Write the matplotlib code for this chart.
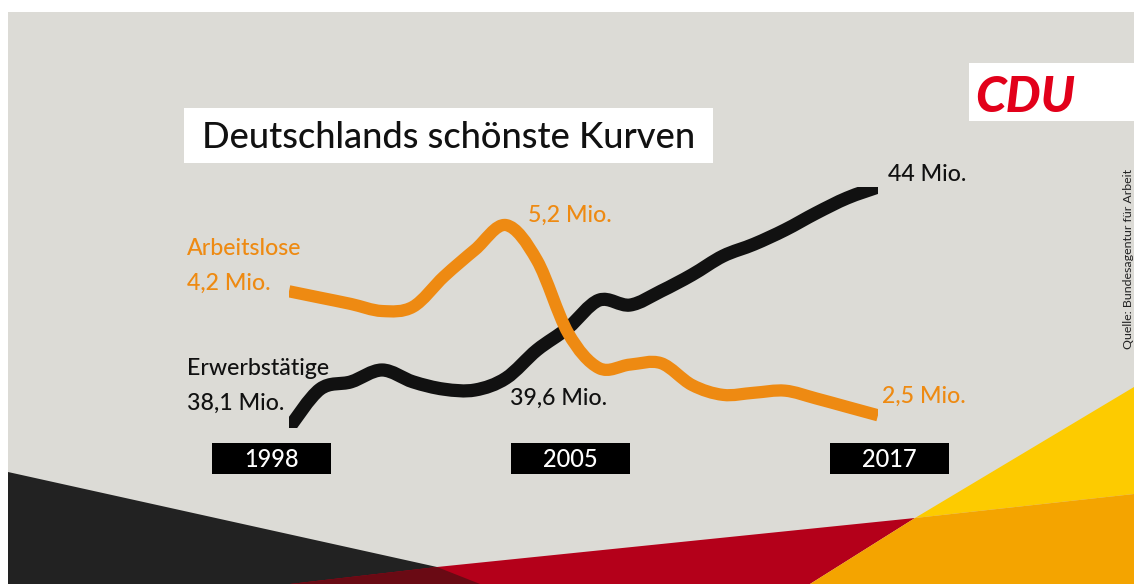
import numpy as np
import matplotlib
matplotlib.use("Agg")
import matplotlib.pyplot as plt
from matplotlib.path import Path
from matplotlib.patches import PathPatch, Polygon, Rectangle

# ---------------- data ----------------
years = [1998, 1999, 2000, 2001, 2002, 2003, 2004, 2005, 2006, 2007,
         2008, 2009, 2010, 2011, 2012, 2013, 2014, 2015, 2016, 2017]
erwerbstaetige = [38.10, 39.05, 39.23, 39.52, 39.23, 39.05, 39.03, 39.32, 40.01, 40.55,
                  41.23, 41.11, 41.45, 41.85, 42.31, 42.60, 42.95, 43.36, 43.73, 44.00]
arbeitslose = [4.26, 4.17, 4.08, 3.98, 4.04, 4.47, 4.85, 5.20, 4.70, 3.67,
               3.17, 3.22, 3.24, 2.93, 2.79, 2.82, 2.85, 2.74, 2.62, 2.50]
year_labels = ["1998", "2005", "2017"]
title = "Deutschlands schönste Kurven"
source = "Quelle: Bundesagentur für Arbeit"

W, H = 1134, 584
BG = "#dcdbd6"
BLACK = "#111111"
ORANGE = "#ee8a12"
FONT = ["Lato", "DejaVu Sans"]

fig = plt.figure(figsize=(W / 100, H / 100), dpi=100)
fig.patch.set_facecolor("white")

# background / decoration axes in pixel coordinates
bg = fig.add_axes([0, 0, 1, 1])
bg.set_xlim(0, W)
bg.set_ylim(H, 0)
bg.set_axis_off()
bg.add_patch(Rectangle((8, 12), W - 8, H - 12, facecolor=BG, edgecolor="none"))

polys = [
    ([(8, 472), (437, 567), (480, 584), (8, 584)], "#222222"),
    ([(290, 584), (437, 567), (915, 518), (810, 584)], "#b4001a"),
    ([(290, 584), (437, 567), (480, 584)], "#6a0a14"),
    ([(915, 518), (1134, 387), (1134, 494)], "#fdcb00"),
    ([(915, 518), (1134, 494), (1134, 584), (810, 584)], "#f4a400"),
]
for pts, col in polys:
    bg.add_patch(Polygon(pts, closed=True, facecolor=col, edgecolor="none"))

# white boxes
bg.add_patch(Rectangle((184, 108), 529, 55, facecolor="white", edgecolor="none"))
bg.add_patch(Rectangle((969, 63), W - 969, 58, facecolor="white", edgecolor="none"))

renderer = fig.canvas.get_renderer()


def fit_width(t, target):
    bb = t.get_window_extent(renderer)
    t.set_fontsize(t.get_fontsize() * target / bb.width)
    return t.get_fontsize()


def fit_height(t, target):
    bb = t.get_window_extent(renderer)
    t.set_fontsize(t.get_fontsize() * target / bb.height)
    return t.get_fontsize()


# title
tt = bg.text(202, 148, title, fontsize=24, family=FONT, weight=500, color="#111111",
             ha="left", va="baseline")
fit_width(tt, 494)

# CDU logo
cdu = bg.text(975, 112, "CDU", fontsize=26, family=FONT, weight=900,
              style="italic", color="#e2001a", ha="left", va="baseline")
fit_width(cdu, 100)

# source text
src = bg.text(1128, 259, source, fontsize=7, family=FONT, color="#222222",
              rotation=90, ha="center", va="center")
fit_height(src, 182)

# label texts
ref = bg.text(187, 375, "Erwerbstätige", fontsize=16, family=FONT, weight=500,
              color=BLACK, ha="left", va="baseline")
lab_fs = fit_width(ref, 143)
labels = [
    (187, 255, "Arbeitslose", ORANGE),
    (187, 290, "4,2 Mio.", ORANGE),
    (187, 410, "38,1 Mio.", BLACK),
    (510, 405, "39,6 Mio.", BLACK),
    (528, 222, "5,2 Mio.", ORANGE),
    (888, 181, "44 Mio.", BLACK),
    (882, 403, "2,5 Mio.", ORANGE),
]
for x, y, s, c in labels:
    bg.text(x, y, s, fontsize=lab_fs, family=FONT, weight=500, color=c,
            ha="left", va="baseline")

# year boxes
box_x = [212, 511, 830]
yr_fs = None
for bx, lab in zip(box_x, year_labels):
    bg.add_patch(Rectangle((bx, 443), 119, 31, facecolor="black", edgecolor="none"))
    t = bg.text(bx + 59.5, 467, lab, fontsize=16, family=FONT, weight=500,
                color="white", ha="center", va="baseline")
    if yr_fs is None:
        yr_fs = fit_width(t, 55)
    else:
        t.set_fontsize(yr_fs)

# ---------------- data axes ----------------
x0, x1 = 289, 878
ytop, ybot = 187, 428
ax = fig.add_axes([x0 / W, 1 - ybot / H, (x1 - x0) / W, (ybot - ytop) / H])
ax.set_xlim(1998, 2017)
ax.set_ylim(38.1, 44.0)
ax.set_axis_off()
ax.patch.set_visible(False)
ax2 = ax.twinx()
ax2.set_ylim(2.32, 5.74)
ax2.set_axis_off()
ax2.patch.set_visible(False)


def smooth_path(xs, ys):
    pts = np.column_stack([xs, ys]).astype(float)
    n = len(pts)
    verts = [pts[0]]
    codes = [Path.MOVETO]
    for i in range(n - 1):
        p0 = pts[i - 1] if i > 0 else pts[i]
        p1 = pts[i]
        p2 = pts[i + 1]
        p3 = pts[i + 2] if i + 2 < n else pts[i + 1]
        c1 = p1 + (p2 - p0) / 6.0
        c2 = p2 - (p3 - p1) / 6.0
        verts += [c1, c2, p2]
        codes += [Path.CURVE4] * 3
    return Path(verts, codes)


ax.add_patch(PathPatch(smooth_path(years, erwerbstaetige), transform=ax.transData,
                       fill=False, edgecolor=BLACK, linewidth=9.5,
                       capstyle="butt", joinstyle="round"))
ax2.add_patch(PathPatch(smooth_path(years, arbeitslose), transform=ax2.transData,
                        fill=False, edgecolor=ORANGE, linewidth=8.8,
                        capstyle="butt", joinstyle="round"))

fig.savefig("out.png", dpi=100, facecolor="white")
